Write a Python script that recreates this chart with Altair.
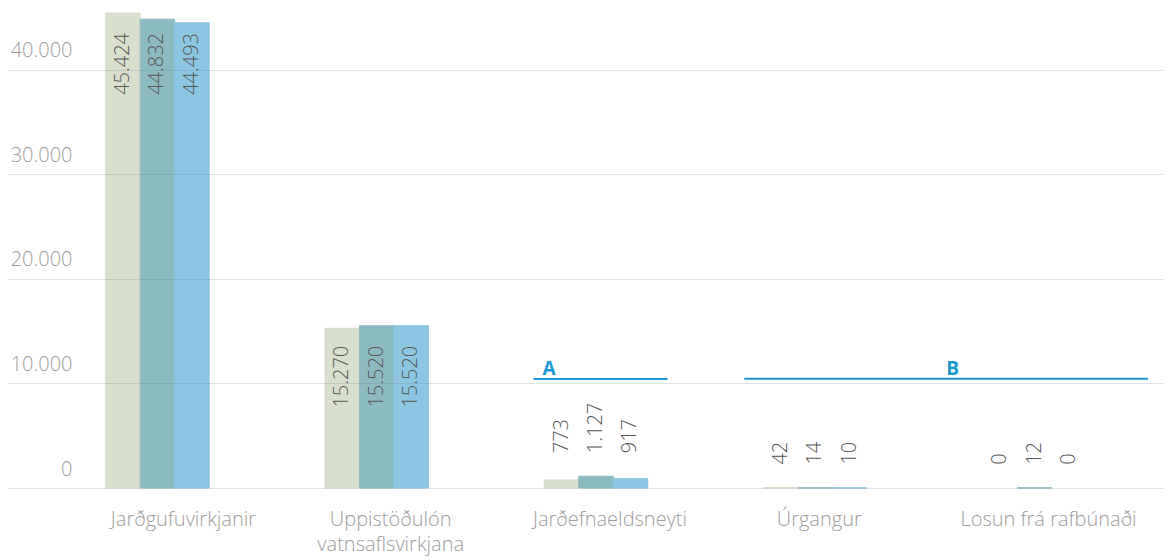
import altair as alt
import pandas as pd

# ---- data ----
categories = ["Jarðgufuvirkjanir", "Uppistöðulón vatnsaflsvirkjana", "Jarðefnaeldsneyti",
              "Úrgangur", "Losun frá rafbúnaði"]
series_names = ["Röð 1", "Röð 2", "Röð 3"]
series_1 = [45424, 15270, 773, 42, 0]
series_2 = [44832, 15520, 1127, 14, 12]
series_3 = [44493, 15520, 917, 10, 0]
series_colors = ["#d9dfcd", "#8bbbc1", "#8dc5e3"]
y_ticks = [0, 10000, 20000, 30000, 40000]

annotation_labels = ["A", "B"]
annotation_from = ["Jarðefnaeldsneyti", "Úrgangur"]
annotation_to = ["Jarðefnaeldsneyti", "Losun frá rafbúnaði"]
annotation_level = [10420, 10440]

# ---- tables ----
rows = []
for name, vals in zip(series_names, [series_1, series_2, series_3]):
    for c, v in zip(categories, vals):
        rows.append({"category": c, "series": name, "value": v})
df = pd.DataFrame(rows)

ann_a = pd.DataFrame({"start": [annotation_from[0]], "end": [annotation_to[0]],
                      "level": [annotation_level[0]], "label": [annotation_labels[0]]})
ann_b = pd.DataFrame({"start": [annotation_from[1]], "end": [annotation_to[1]],
                      "level": [annotation_level[1]], "label": [annotation_labels[1]]})

FONT = "Open Sans"
AXIS_GREY = "#9d9d9d"
VALUE_GREY = "#555555"
ANN_BLUE = "#1a98cf"
fmt_expr = "replace(format(datum.value, ','), ',', '.')"


def xs():
    return alt.Scale(domain=categories, paddingInner=0.528, paddingOuter=0.4, align=0.557)


x_axis = alt.Axis(domain=False, ticks=False, tickSize=0, labelAngle=0, labelPadding=21,
                  labelOffset={"condition": [
                      {"test": f"datum.value == '{categories[0]}'", "value": 26},
                      {"test": f"datum.value == '{categories[3]}'", "value": 4},
                  ], "value": 14},
                  labelFont=FONT, labelFontSize=20, labelFontWeight=300,
                  labelColor=AXIS_GREY, labelLineHeight=25, labelBaseline="top",
                  labelLimit=400,
                  labelExpr="indexof(datum.label, ' vatns') >= 0 ? split(datum.label, ' ') : datum.label",
                  title=None)
y_scale = alt.Scale(domain=[0, 45900], nice=False, zero=True)
y_axis = alt.Axis(values=y_ticks, grid=True, gridColor="#6d8092", gridOpacity=0.22,
                  gridWidth=1, domain=False, ticks=False, tickSize=0, labelAlign="right",
                  labelBaseline="middle", labelPadding=-64, labelOffset=-19,
                  labelFont=FONT, labelFontSize=20, labelFontWeight=300,
                  labelColor=AXIS_GREY, labelExpr=fmt_expr, zindex=1, title=None)

base = alt.Chart(df).transform_joinaggregate(
    groupMax="max(value)", groupby=["category"]
).transform_calculate(
    label=fmt_expr
)

xoff = alt.XOffset("series:N", sort=series_names,
                   scale=alt.Scale(domain=series_names, paddingInner=0, paddingOuter=0))

bars = base.mark_bar(strokeWidth=1).encode(
    x=alt.X("category:N", scale=xs(), axis=x_axis, title=None),
    xOffset=xoff,
    y=alt.Y("value:Q", scale=y_scale, axis=y_axis, title=None),
    color=alt.Color("series:N",
                    scale=alt.Scale(domain=series_names, range=series_colors), legend=None),
    stroke=alt.Stroke("series:N",
                      scale=alt.Scale(domain=series_names, range=series_colors), legend=None),
    strokeOpacity=alt.condition("datum.value > 0", alt.value(1), alt.value(0)),
)

inside = base.transform_filter("datum.groupMax > 5000").mark_text(
    angle=270, align="right", baseline="middle", dx=-20,
    font=FONT, fontSize=20, fontWeight=300, color=VALUE_GREY
).encode(
    x=alt.X("category:N", scale=xs()),
    xOffset=xoff,
    y=alt.Y("groupMax:Q"),
    text="label:N",
)

outside = base.transform_filter("datum.groupMax <= 5000").mark_text(
    angle=270, align="left", baseline="middle", dx=23,
    font=FONT, fontSize=20, fontWeight=300, color=VALUE_GREY
).encode(
    x=alt.X("category:N", scale=xs()),
    xOffset=xoff,
    y=alt.Y("groupMax:Q"),
    text="label:N",
)

rule_a = alt.Chart(ann_a).mark_rule(color=ANN_BLUE, strokeWidth=2, xOffset=-62.5, x2Offset=71.5).encode(
    x=alt.X("start:N", scale=xs()), x2="end:N", y="level:Q")
text_a = alt.Chart(ann_a).mark_text(align="left", baseline="alphabetic", dx=-53.5, dy=-4,
                                    font=FONT, fontSize=19, fontWeight="bold", color=ANN_BLUE).encode(
    x=alt.X("start:N", scale=xs()), y="level:Q", text="label:N")

rule_b = alt.Chart(ann_b).mark_rule(color=ANN_BLUE, strokeWidth=2, xOffset=-71, x2Offset=113.5).encode(
    x=alt.X("start:N", scale=xs()), x2="end:N", y="level:Q")
text_b = alt.Chart(ann_b).mark_text(align="left", baseline="alphabetic", dx=131, dy=-4,
                                    font=FONT, fontSize=19, fontWeight="bold", color=ANN_BLUE).encode(
    x=alt.X("start:N", scale=xs()), y="level:Q", text="label:N")

chart = alt.layer(bars, inside, outside, rule_a, text_a, rule_b, text_b).properties(
    width=1156, height=480,
    autosize=alt.AutoSizeParams(type="none"),
    padding={"left": 0, "top": 0, "right": 0, "bottom": 70},
    background="white",
).configure_view(stroke=None)

chart.save("out.html", embed_options={"renderer": "svg", "actions": False})
